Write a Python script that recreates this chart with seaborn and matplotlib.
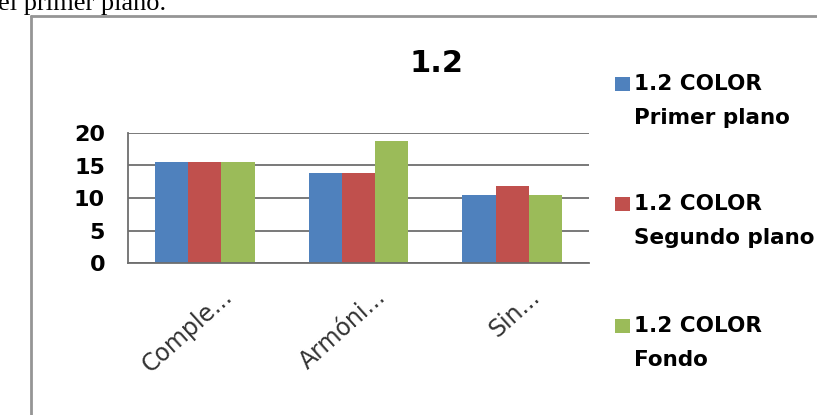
import matplotlib
matplotlib.use("Agg")
import matplotlib.pyplot as plt
import matplotlib.transforms as mtransforms
from matplotlib.lines import Line2D
from matplotlib.patches import Rectangle
import seaborn as sns
import pandas as pd

# ---- data ----
categories = ["Comple...", "Armóni...", "Sin..."]
series_names = ["1.2 COLOR\nPrimer plano", "1.2 COLOR\nSegundo plano", "1.2 COLOR\nFondo"]
primer_plano = [15.5, 13.8, 10.5]
segundo_plano = [15.5, 13.8, 11.8]
fondo = [15.5, 18.7, 10.5]
y_ticks = [0, 5, 10, 15, 20]
title = "1.2"
colors = ["#4F81BD", "#C0504D", "#9BBB59"]

rows = []
for name, vals in zip(series_names, [primer_plano, segundo_plano, fondo]):
    for c, v in zip(categories, vals):
        rows.append({"cat": c, "val": v, "series": name})
df = pd.DataFrame(rows)

sns.set_style("white")
plt.rcParams["font.family"] = ["DejaVu Sans"]
plt.rcParams["text.color"] = "black"
plt.rcParams["ytick.color"] = "black"

W, H = 817, 415
fig = plt.figure(figsize=(W / 100, H / 100), dpi=100)
fig.patch.set_facecolor("white")

ax_l, ax_r, ax_t, ax_b = 128, 589, 133, 263
ax = fig.add_axes([ax_l / W, 1 - ax_b / H, (ax_r - ax_l) / W, (ax_b - ax_t) / H])

sns.barplot(data=df, x="cat", y="val", hue="series", order=categories,
            hue_order=series_names, palette=colors, width=0.65,
            linewidth=0, saturation=1, errorbar=None, ax=ax, legend=False)

ax.set_xlim(-0.5, len(categories) - 0.5)
ax.set_ylim(0, 20)
ax.set_yticks(y_ticks)
ax.set_xlabel("")
ax.set_ylabel("")
ax.yaxis.grid(True, color="#6e6e6e", linewidth=1.3)
ax.set_axisbelow(True)
for s in ["top", "right"]:
    ax.spines[s].set_visible(False)
for s in ["left", "bottom"]:
    ax.spines[s].set_color("#6e6e6e")
    ax.spines[s].set_linewidth(1.3)

ax.tick_params(axis="y", length=0, pad=16.5, labelsize=16, labelcolor="black")
for lab in ax.get_yticklabels():
    lab.set_fontweight("bold")

ax.tick_params(axis="x", length=0, pad=0, labelsize=17, labelcolor="#333333")
offset = mtransforms.ScaledTranslation(0.24, -0.30, fig.dpi_scale_trans)
for lab in ax.get_xticklabels():
    lab.set_rotation(42)
    lab.set_ha("right")
    lab.set_va("center")
    lab.set_rotation_mode("anchor")
    lab.set_transform(lab.get_transform() + offset)

# chart frame
fig.add_artist(Line2D([31 / W, 31 / W], [0, 1 - 16 / H], transform=fig.transFigure,
                      color="#959595", lw=2))
fig.add_artist(Line2D([31 / W, 1], [1 - 16 / H, 1 - 16 / H], transform=fig.transFigure,
                      color="#959595", lw=2))

# clipped document text above the chart
fig.text(-2 / W, 1 - 10 / H, "el primer plano.", fontsize=19,
         family=["Liberation Serif", "DejaVu Serif"], ha="left", va="baseline")

# title
fig.text(437 / W, 1 - 64 / H, title, ha="center", va="center",
         fontsize=22, fontweight="bold")

# legend
first_line_y = [84, 204, 326]
for name, col, yy in zip(series_names, colors, first_line_y):
    fig.add_artist(Rectangle((615 / W, 1 - (yy + 7) / H), 15 / W, 14 / H,
                             transform=fig.transFigure, facecolor=col,
                             edgecolor="none"))
    fig.text(634 / W, 1 - (yy - 10) / H, name, ha="left", va="top",
             fontsize=15.5, fontweight="bold", linespacing=1.85)

fig.savefig("out.png", dpi=100, facecolor="white")
